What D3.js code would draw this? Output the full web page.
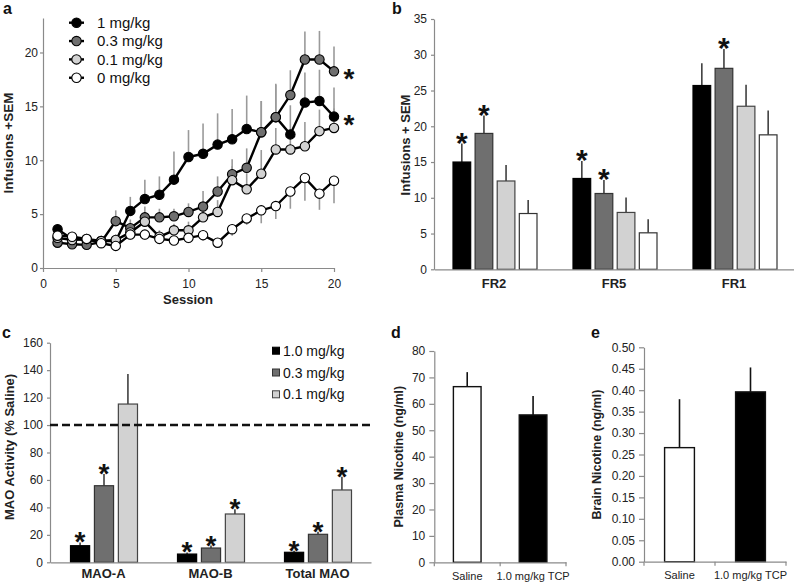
<!DOCTYPE html>
<html><head><meta charset="utf-8">
<script src="https://cdn.jsdelivr.net/npm/d3@7"></script>
<style>
body{margin:0;background:#fff;}
svg{display:block;font-family:Arial,"Liberation Sans",sans-serif;}
</style></head><body>
<svg id="c" width="794" height="583"></svg>
<script>
// ---------- DATA ----------
// Panel a: infusions per session
const sessions = d3.range(1, 21);
const doseLabelsA = ["1 mg/kg", "0.3 mg/kg", "0.1 mg/kg", "0 mg/kg"];
const infDose1   = [3.6, 2.7, 2.6, 2.5, 2.5, 5.3, 6.4, 6.8, 8.2, 10.3, 10.6, 11.45, 11.95, 12.9, 12.6, 14.0, 12.4, 15.35, 15.5, 14.05];
const semDose1   = [0.3, 0.3, 0.3, 0.3, 0.3, 1.3, 1.8, 1.7, 2.6, 2.5, 2.8, 2.9, 2.8, 3.1, 2.9, 3.1, 2.7, 2.8, 2.9, 2.7];
const infDose03  = [2.35, 2.2, 2.15, 2.4, 4.35, 3.7, 4.7, 4.7, 4.8, 5.2, 5.7, 7.1, 8.7, 9.3, 12.6, 14.0, 16.05, 19.35, 19.35, 18.25];
const semDose03  = [0.3, 0.3, 0.3, 0.3, 1.0, 0.8, 1.0, 0.8, 0.7, 0.8, 1.45, 1.4, 1.4, 1.8, 2.9, 3.0, 2.3, 2.6, 2.65, 2.3];
const infDose01  = [2.8, 2.6, 2.7, 2.5, 2.6, 3.3, 4.3, 2.9, 3.5, 3.5, 4.7, 5.2, 8.15, 7.3, 8.75, 11.0, 11.0, 11.3, 12.7, 13.0];
const semDose01  = [0.3, 0.3, 0.3, 0.3, 0.5, 0.6, 0.8, 0.6, 0.6, 0.8, 1.0, 1.1, 1.3, 1.5, 2.2, 2.0, 1.8, 2.25, 2.0, 1.8];
const infDose0   = [3.0, 2.9, 2.7, 2.3, 2.05, 3.1, 3.1, 2.7, 2.55, 2.8, 3.05, 2.35, 3.6, 4.6, 5.35, 5.75, 7.1, 8.35, 6.9, 8.1];
const semDose0   = [0.3, 0.3, 0.3, 0.3, 0.3, 0.5, 0.5, 0.4, 0.4, 0.5, 0.5, 0.4, 0.6, 0.6, 1.2, 1.2, 1.6, 2.1, 1.5, 2.1];
const starA      = [true, true, false, false];
const ticksA_x   = [0, 5, 10, 15, 20];
const ticksA_y   = [0, 5, 10, 15, 20];

// Panel b: infusions by schedule
const schedules  = ["FR2", "FR5", "FR1"];
const bDose1     = [15.0, 12.7, 25.7];  const bSem1  = [2.6, 2.45, 3.1];
const bDose03    = [19.0, 10.6, 28.1];  const bSem03 = [2.5, 1.9, 2.7];
const bDose01    = [12.35, 7.95, 22.8]; const bSem01 = [2.25, 2.1, 3.0];
const bDose0     = [7.8, 5.1, 18.8];    const bSem0  = [1.9, 1.9, 3.4];
const bStars     = [[1, 1, 0], [1, 1, 1], [0, 0, 0], [0, 0, 0]];
const ticksB_y   = [0, 5, 10, 15, 20, 25, 30, 35];

// Panel c: MAO activity
const maoCats    = ["MAO-A", "MAO-B", "Total MAO"];
const doseLabelsC = ["1.0 mg/kg", "0.3 mg/kg", "0.1 mg/kg"];
const cDose1     = [12.1, 6.0, 7.3];    const cSem1  = [2.4, 1.2, 1.2];
const cDose03    = [55.8, 10.4, 20.4];  const cSem03 = [8.5, 1.8, 1.9];
const cDose01    = [115.3, 35.2, 52.7]; const cSem01 = [21.9, 3.4, 9.7];
const cStars     = [[1, 1, 1], [1, 1, 1], [0, 1, 1]];
const salineRef  = 100;
const ticksC_y   = [0, 20, 40, 60, 80, 100, 120, 140, 160];

// Panel d / e: nicotine levels
const treatGroups = ["Saline", "1.0 mg/kg TCP"];
const plasmaNic   = [66.5, 55.8]; const plasmaSem = [5.5, 7.2];
const brainNic    = [0.266, 0.396]; const brainSem = [0.113, 0.057];
const ticksD_y    = [0, 10, 20, 30, 40, 50, 60, 70, 80];
const ticksE_y    = [0, 0.05, 0.10, 0.15, 0.20, 0.25, 0.30, 0.35, 0.40, 0.45, 0.50];

// ---------- STYLE ----------
const fills   = ["#000000", "#6f6f6f", "#d2d2d2", "#ffffff"];
const strokes = ["#000000", "#333333", "#444444", "#333333"];
const axisCol = "#8a8a8a", textCol = "#222";
const FONT = 'Arial,"Liberation Sans",sans-serif';

const svg = d3.select("#c");

function styleAxis(g, fs) {
  g.attr("font-family", FONT).attr("font-size", fs || 12);
  g.select(".domain").attr("stroke", axisCol).attr("stroke-width", 1.2);
  g.selectAll(".tick line").attr("stroke", axisCol).attr("stroke-width", 1.2);
  g.selectAll(".tick text").attr("fill", textCol);
}
function star(g, x, cy, fs) {
  g.append("text").attr("x", x).attr("y", cy + 0.57 * fs)
    .attr("text-anchor", "middle").attr("font-size", fs).attr("font-weight", "bold")
    .attr("fill", "#111").text("*");
}
function panelLabel(x, y, t) {
  svg.append("text").attr("x", x).attr("y", y).attr("font-size", 16)
    .attr("font-weight", "bold").attr("fill", "#111").text(t);
}
function yLabel(x, y, t, fs) {
  svg.append("text").attr("transform", `translate(${x},${y}) rotate(-90)`)
    .attr("text-anchor", "middle").attr("font-size", fs).attr("font-weight", "bold")
    .attr("fill", textCol).text(t);
}

// ---------- PANEL A ----------
{
  const xa = d3.scaleLinear().domain([0, 20]).range([43, 334]);
  const ya = d3.scaleLinear().domain([0, 23.2]).range([268, 18]);
  const series = [
    {v: infDose1, s: semDose1, dir: 1},
    {v: infDose03, s: semDose03, dir: 1},
    {v: infDose01, s: semDose01, dir: 1},
    {v: infDose0, s: semDose0, dir: -1}
  ];
  const g = svg.append("g");
  const gx = g.append("g").attr("transform", "translate(0,268)")
    .call(d3.axisBottom(xa).tickValues(ticksA_x).tickSize(4).tickPadding(7).tickSizeOuter(0));
  styleAxis(gx, 12);
  const gy = g.append("g").attr("transform", "translate(43,0)")
    .call(d3.axisLeft(ya).tickValues(ticksA_y).tickSize(3).tickPadding(2).tickSizeOuter(0));
  styleAxis(gy, 12);

  // error bars
  series.forEach(sr => {
    g.append("g").selectAll("line").data(sessions).join("line")
      .attr("x1", d => xa(d)).attr("x2", d => xa(d))
      .attr("y1", (d, i) => ya(sr.v[i]))
      .attr("y2", (d, i) => ya(sr.v[i] + sr.dir * sr.s[i]))
      .attr("stroke", "#9a9a9a").attr("stroke-width", 1.6);
  });
  // lines + markers
  series.forEach((sr, k) => {
    const line = d3.line().x((d, i) => xa(sessions[i])).y(d => ya(d));
    g.append("path").datum(sr.v).attr("d", line).attr("fill", "none")
      .attr("stroke", "#000").attr("stroke-width", 2.4);
    g.append("g").selectAll("circle").data(sr.v).join("circle")
      .attr("cx", (d, i) => xa(sessions[i])).attr("cy", d => ya(d)).attr("r", 4.7)
      .attr("fill", fills[k]).attr("stroke", "#000").attr("stroke-width", 1.1);
  });
  // stars at session 20
  series.forEach((sr, k) => {
    if (starA[k]) star(g, xa(20) + 15, ya(sr.v[19]) + 1, 28);
  });
  // legend
  doseLabelsA.forEach((t, k) => {
    const yy = 22.7 + k * 18.35;
    g.append("line").attr("x1", 69).attr("x2", 84).attr("y1", yy).attr("y2", yy)
      .attr("stroke", "#000").attr("stroke-width", 2.4);
    g.append("circle").attr("cx", 76.5).attr("cy", yy).attr("r", 4.7)
      .attr("fill", fills[k]).attr("stroke", "#000").attr("stroke-width", 1.1);
    g.append("text").attr("x", 97).attr("y", yy + 5.3).attr("font-size", 15)
      .attr("fill", "#111").text(t);
  });
  yLabel(13, 143, "Infusions +SEM", 13.5);
  g.append("text").attr("x", 188).attr("y", 304).attr("text-anchor", "middle")
    .attr("font-size", 13).attr("font-weight", "bold").attr("fill", textCol).text("Session");
  panelLabel(3, 14, "a");
}

// ---------- PANEL B ----------
{
  const xb = d3.scaleBand().domain(schedules).range([434, 794]);
  const xs = d3.scaleBand().domain([0, 1, 2, 3]).range([19, 103]).paddingInner(0.2);
  const yb = d3.scaleLinear().domain([0, 35]).range([269.3, 19]);
  const vals = [bDose1, bDose03, bDose01, bDose0];
  const sems = [bSem1, bSem03, bSem01, bSem0];
  const g = svg.append("g");
  const gy = g.append("g").attr("transform", "translate(434,0)")
    .call(d3.axisLeft(yb).tickValues(ticksB_y).tickSize(3).tickPadding(4).tickSizeOuter(0));
  styleAxis(gy, 12);
  vals.forEach((arr, k) => {
    const gg = g.append("g");
    gg.selectAll("line").data(schedules).join("line")
      .attr("x1", (d) => xb(d) + xs(k) + xs.bandwidth() / 2)
      .attr("x2", (d) => xb(d) + xs(k) + xs.bandwidth() / 2)
      .attr("y1", (d, i) => yb(arr[i])).attr("y2", (d, i) => yb(arr[i] + sems[k][i]))
      .attr("stroke", "#333").attr("stroke-width", 1.5);
    gg.selectAll("rect").data(schedules).join("rect")
      .attr("x", d => xb(d) + xs(k)).attr("width", xs.bandwidth())
      .attr("y", (d, i) => yb(arr[i])).attr("height", (d, i) => yb(0) - yb(arr[i]))
      .attr("fill", fills[k]).attr("stroke", strokes[k]).attr("stroke-width", 1.2);
    schedules.forEach((d, i) => {
      if (bStars[k][i]) star(g, xb(d) + xs(k) + xs.bandwidth() / 2, yb(arr[i] + sems[k][i]) - 8, 30);
    });
  });
  const gx = g.append("g").attr("transform", "translate(0,269.3)")
    .call(d3.axisBottom(xb).tickSize(0).tickPadding(9.5));
  styleAxis(gx, 13);
  gx.selectAll(".tick text").attr("font-weight", "bold");
  yLabel(410, 145, "Infusions + SEM", 13);
  panelLabel(392, 14, "b");
}

// ---------- PANEL C ----------
{
  const xc = d3.scaleBand().domain(maoCats).range([50, 371]);
  const xs = d3.scaleBand().domain([0, 1, 2]).range([20.5, 87.5]).paddingInner(0.2);
  const yc = d3.scaleLinear().domain([0, 160]).range([562.3, 342.7]);
  const vals = [cDose1, cDose03, cDose01];
  const sems = [cSem1, cSem03, cSem01];
  const g = svg.append("g");
  const gy = g.append("g").attr("transform", "translate(50,0)")
    .call(d3.axisLeft(yc).tickValues(ticksC_y).tickSize(3).tickPadding(4).tickSizeOuter(0));
  styleAxis(gy, 12);
  vals.forEach((arr, k) => {
    const gg = g.append("g");
    gg.selectAll("line").data(maoCats).join("line")
      .attr("x1", d => xc(d) + xs(k) + xs.bandwidth() / 2)
      .attr("x2", d => xc(d) + xs(k) + xs.bandwidth() / 2)
      .attr("y1", (d, i) => yc(arr[i])).attr("y2", (d, i) => yc(arr[i] + sems[k][i]))
      .attr("stroke", "#333").attr("stroke-width", 1.5);
    gg.selectAll("rect").data(maoCats).join("rect")
      .attr("x", d => xc(d) + xs(k)).attr("width", xs.bandwidth())
      .attr("y", (d, i) => yc(arr[i])).attr("height", (d, i) => yc(0) - yc(arr[i]))
      .attr("fill", fills[k]).attr("stroke", strokes[k]).attr("stroke-width", 1.2);
    maoCats.forEach((d, i) => {
      if (cStars[k][i]) star(g, xc(d) + xs(k) + xs.bandwidth() / 2, yc(arr[i] + sems[k][i]) - 7, 28);
    });
  });
  g.append("line").attr("x1", 50).attr("x2", 371).attr("y1", yc(salineRef)).attr("y2", yc(salineRef))
    .attr("stroke", "#111").attr("stroke-width", 2.4).attr("stroke-dasharray", "8,4");
  const gx = g.append("g").attr("transform", "translate(0,562.3)")
    .call(d3.axisBottom(xc).tickSize(0).tickPadding(6.5));
  styleAxis(gx, 13);
  gx.selectAll(".tick text").attr("font-weight", "bold");
  // legend
  doseLabelsC.forEach((t, k) => {
    const yy = 350.7 + k * 21.8;
    g.append("rect").attr("x", 272.5).attr("y", yy - 3.5).attr("width", 7).attr("height", 7)
      .attr("fill", fills[k]).attr("stroke", strokes[k]).attr("stroke-width", 1);
    g.append("text").attr("x", 283).attr("y", yy + 5).attr("font-size", 14)
      .attr("fill", "#111").text(t);
  });
  yLabel(14, 447, "MAO Activity (% Saline)", 13);
  panelLabel(2, 338, "c");
}

// ---------- PANEL D & E ----------
function nicPanel(x0, x1, yScale, ticks, fmt, vals, sems, label, labX, tag, tagX) {
  const xd = d3.scaleBand().domain(treatGroups).range([x0, x1]);
  const g = svg.append("g");
  const y0 = yScale.range()[0];
  const gy = g.append("g").attr("transform", `translate(${x0},0)`)
    .call(d3.axisLeft(yScale).tickValues(ticks).tickFormat(fmt).tickSize(5).tickPadding(4).tickSizeOuter(0));
  styleAxis(gy, 12);
  const bw = xd.step() * 0.42;
  const cx = d => xd(d) + xd.bandwidth() / 2;
  g.selectAll("line.err").data(treatGroups).join("line").attr("class", "err")
    .attr("x1", cx).attr("x2", cx)
    .attr("y1", (d, i) => yScale(vals[i])).attr("y2", (d, i) => yScale(vals[i] + sems[i]))
    .attr("stroke", "#111").attr("stroke-width", 1.6);
  g.selectAll("rect").data(treatGroups).join("rect")
    .attr("x", d => cx(d) - bw / 2).attr("width", bw)
    .attr("y", (d, i) => yScale(vals[i])).attr("height", (d, i) => y0 - yScale(vals[i]))
    .attr("fill", (d, i) => i === 0 ? "#fff" : "#000").attr("stroke", "#111").attr("stroke-width", 1.4);
  const gx = g.append("g").attr("transform", `translate(0,${y0})`)
    .call(d3.axisBottom(xd).tickSize(0).tickPadding(10).tickSizeOuter(0));
  styleAxis(gx, 11);
  // tick marks at category boundaries
  const bounds = [x0].concat(treatGroups.map(d => xd(d) + xd.step()));
  g.selectAll("line.bt").data(bounds).join("line").attr("class", "bt")
    .attr("x1", d => d).attr("x2", d => d).attr("y1", y0).attr("y2", y0 + 4)
    .attr("stroke", axisCol).attr("stroke-width", 1.2);
  yLabel(labX, (yScale.range()[0] + yScale.range()[1]) / 2, label, 12.5);
  panelLabel(tagX, 338, tag);
}
nicPanel(434.3, 566, d3.scaleLinear().domain([0, 80]).range([562.3, 351]), ticksD_y, d3.format("d"),
  plasmaNic, plasmaSem, "Plasma Nicotine (ng/ml)", 403, "d", 391);
nicPanel(644, 786, d3.scaleLinear().domain([0, 0.5]).range([561.7, 347.3]), ticksE_y, d3.format(".2f"),
  brainNic, brainSem, "Brain Nicotine (ng/ml)", 601, "e", 591);
</script>
</body></html>
